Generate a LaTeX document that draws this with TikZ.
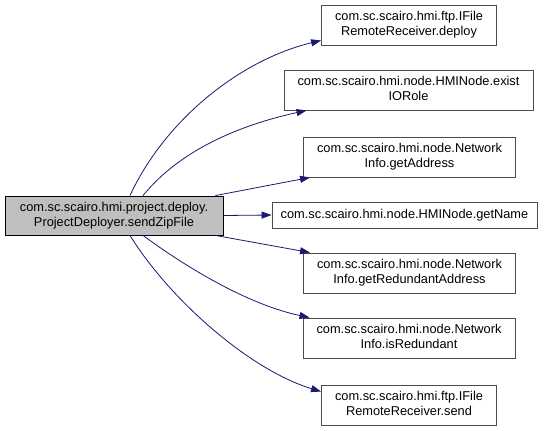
\documentclass[tikz,border=0pt]{standalone}
\usepackage{fontspec}
\setmainfont{Liberation Sans}
\usetikzlibrary{arrows.meta}
\definecolor{edgeblue}{RGB}{25,25,112}
\newcommand\twoline[2]{\begin{tabular}{@{}c@{}}#1\\#2\end{tabular}}

\begin{document}
\begin{tikzpicture}[
    x=1pt, y=-1pt,
    fn/.style={draw=black!70, fill=white, line width=0.9pt,
               font=\fontsize{12.8}{15}\selectfont, inner sep=0pt,
               minimum width=#1, minimum height=40pt},
    fn/.default=212pt,
    root/.style={fn=#1, draw=black, fill=black!25},
    call/.style={draw=edgeblue, line width=0.8pt,
                 -{Triangle[length=10pt,width=7pt]}}
  ]
  \useasboundingbox (0,0) rectangle (552,431);
  \node[root=218pt, minimum height=39pt] (send) at (114,215.5)
    {\twoline{com.sc.scairo.hmi.project.deploy.}{ProjectDeployer.sendZipFile}};
  \node[fn=175pt] (deploy) at (409,25)
    {\twoline{com.sc.scairo.hmi.ftp.IFile}{RemoteReceiver.deploy}};
  \node[fn=249pt] (exist) at (408.5,90)
    {\twoline{com.sc.scairo.hmi.node.HMINode.exist}{IORole}};
  \node[fn] (addr) at (409.5,157)
    {\twoline{com.sc.scairo.hmi.node.Network}{Info.getAddress}};
  \node[fn=265pt, minimum height=26pt] (name) at (404.5,215)
    {com.sc.scairo.hmi.node.HMINode.getName};
  \node[fn] (redaddr) at (409.5,273)
    {\twoline{com.sc.scairo.hmi.node.Network}{Info.getRedundantAddress}};
  \node[fn] (isred) at (409,338)
    {\twoline{com.sc.scairo.hmi.node.Network}{Info.isRedundant}};
  \node[fn=175pt] (rsend) at (409,405)
    {\twoline{com.sc.scairo.hmi.ftp.IFile}{RemoteReceiver.send}};

  \draw[call] ([xshift=16pt]send.north) .. controls (165,120) and (240,60) .. ([yshift=5pt]deploy.south west);
  \draw[call] ([xshift=29pt]send.north) .. controls (180,150) and (240,125) .. ([xshift=23pt]exist.south west);
  \draw[call] ([xshift=-8pt]send.north east) -- ([xshift=7pt]addr.south west);
  \draw[call] (send.east) -- (name.west);
  \draw[call] ([xshift=-8pt]send.south east) -- ([xshift=7pt]redaddr.north west);
  \draw[call] ([xshift=29pt]send.south) .. controls (190,270) and (250,305) .. ([xshift=7pt]isred.north west);
  \draw[call] ([xshift=16pt]send.south) .. controls (170,300) and (250,370) .. ([yshift=-7pt]rsend.north west);
\end{tikzpicture}
\end{document}
